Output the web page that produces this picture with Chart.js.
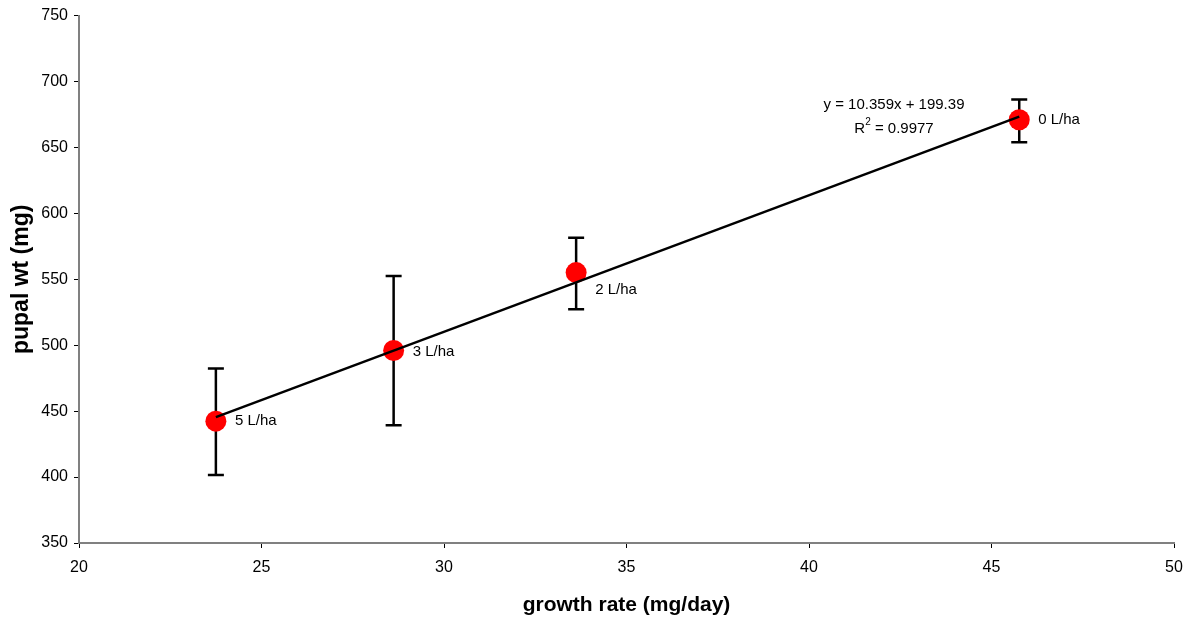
<!DOCTYPE html>
<html>
<head>
<meta charset="utf-8">
<script src="https://cdn.jsdelivr.net/npm/chart.js@4/dist/chart.umd.min.js"></script>
<style>
  html, body { margin: 0; padding: 0; background: #fff; }
  #wrap { width: 1197px; height: 621px; position: relative; }
</style>
</head>
<body>
<div id="wrap"><canvas id="c"></canvas></div>
<script>
// Treatment doses and measured means
const doseLabels = ['5 L/ha', '3 L/ha', '2 L/ha', '0 L/ha'];
const growthRate = [23.75, 28.62, 33.62, 45.76];   // mg/day
const pupalWt    = [442.4, 496.0, 555.1, 671.0];   // mg
const errUpper   = [482.3, 552.5, 581.6, 686.4];
const errLower   = [401.5, 439.4, 527.3, 654.0];

// Linear fit reported on the chart
const trendSlope = 10.359;
const trendIntercept = 199.39;
const rSquared = '0.9977';

// Axis ranges
const xRange = { min: 20, max: 50, step: 5 };
const yRange = { min: 350, max: 750, step: 50 };

const FONT = "'Liberation Sans', Arial, Helvetica, sans-serif";

const xStart = Math.min(...growthRate);
const xEnd = Math.max(...growthRate);
const trendPoints = [xStart, xEnd].map(x => ({ x, y: trendSlope * x + trendIntercept }));

const scatterPoints = growthRate.map((x, i) => ({ x, y: pupalWt[i] }));

// Vertical error bars with caps, drawn beneath the markers
const errorBars = {
  id: 'errorBars',
  beforeDatasetsDraw(chart) {
    const { ctx, scales: { x, y } } = chart;
    const cap = 8;
    ctx.save();
    ctx.strokeStyle = '#000';
    ctx.lineWidth = 2.5;
    growthRate.forEach((gx, i) => {
      const px = x.getPixelForValue(gx);
      const top = y.getPixelForValue(errUpper[i]);
      const bot = y.getPixelForValue(errLower[i]);
      ctx.beginPath();
      ctx.moveTo(px, top); ctx.lineTo(px, bot);
      ctx.moveTo(px - cap, top); ctx.lineTo(px + cap, top);
      ctx.moveTo(px - cap, bot); ctx.lineTo(px + cap, bot);
      ctx.stroke();
    });
    ctx.restore();
  }
};

// Dose labels beside each point, plus the fit equation
const annotations = {
  id: 'annotations',
  afterDatasetsDraw(chart, args, opts) {
    const { ctx, chartArea, scales: { x, y } } = chart;
    ctx.save();
    ctx.fillStyle = '#000';
    ctx.font = '15px ' + FONT;
    ctx.textAlign = 'left';
    ctx.textBaseline = 'middle';
    doseLabels.forEach((t, i) => {
      const px = x.getPixelForValue(growthRate[i]);
      const py = y.getPixelForValue(pupalWt[i]);
      const dy = opts.labelShift[i] || 0;
      ctx.fillText(t, px + 19, py + dy);
    });

    // equation block
    const cx = chartArea.left + opts.eqX;
    const ey = chartArea.top + opts.eqY;
    ctx.textAlign = 'center';
    ctx.fillText('y = ' + trendSlope + 'x + ' + trendIntercept, cx, ey);

    const rest = ' = ' + rSquared;
    ctx.font = '15px ' + FONT;
    const wR = ctx.measureText('R').width;
    const wRest = ctx.measureText(rest).width;
    ctx.font = '10px ' + FONT;
    const w2 = ctx.measureText('2').width;
    const total = wR + w2 + wRest;
    let sx = cx - total / 2;
    const ry = ey + 24;
    ctx.textAlign = 'left';
    ctx.font = '15px ' + FONT;
    ctx.fillText('R', sx, ry);
    ctx.font = '10px ' + FONT;
    ctx.fillText('2', sx + wR, ry - 6);
    ctx.font = '15px ' + FONT;
    ctx.fillText(rest, sx + wR + w2, ry);
    ctx.restore();
  }
};

const tickFont = { family: FONT, size: 16 };

new Chart(document.getElementById('c'), {
  type: 'scatter',
  data: {
    datasets: [
      {
        type: 'line',
        label: 'fit',
        data: trendPoints,
        borderColor: '#000',
        borderWidth: 2.5,
        pointRadius: 0,
        fill: false,
        order: 0
      },
      {
        label: 'pupal wt',
        data: scatterPoints,
        backgroundColor: '#ff0000',
        borderColor: '#ff0000',
        borderWidth: 0,
        pointRadius: 10.5,
        pointHoverRadius: 10.5,
        order: 1
      }
    ]
  },
  options: {
    responsive: true,
    maintainAspectRatio: false,
    animation: false,
    events: [],
    layout: { padding: { top: 15, right: 23, left: 0, bottom: 0 } },
    plugins: {
      legend: { display: false },
      tooltip: { enabled: false },
      annotations: { labelShift: [0, 1, 17, 0], eqX: 815, eqY: 89 }
    },
    scales: {
      x: {
        type: 'linear',
        min: xRange.min, max: xRange.max,
        ticks: { stepSize: xRange.step, color: '#000', font: tickFont, padding: 10, maxRotation: 0 },
        grid: { drawOnChartArea: false, drawTicks: true, tickLength: 5, color: '#000', lineWidth: 1 },
        border: { display: true, color: '#808080', width: 2 },
        title: { display: true, text: 'growth rate (mg/day)', color: '#000',
                 font: { family: FONT, size: 21, weight: 'bold' }, padding: { top: 0, bottom: 3 } },
        afterFit(scale) { scale.height = 78; }
      },
      y: {
        type: 'linear',
        min: yRange.min, max: yRange.max,
        ticks: { stepSize: yRange.step, color: '#000', font: tickFont, padding: 6 },
        grid: { drawOnChartArea: false, drawTicks: true, tickLength: 5, color: '#000', lineWidth: 1 },
        border: { display: true, color: '#808080', width: 2 },
        title: { display: true, text: 'pupal wt (mg)', color: '#000',
                 font: { family: FONT, size: 23, weight: 'bold' }, padding: { top: 8, bottom: 0 } },
        afterFit(scale) { scale.width = 79; }
      }
    }
  },
  plugins: [errorBars, annotations]
});
</script>
</body>
</html>
